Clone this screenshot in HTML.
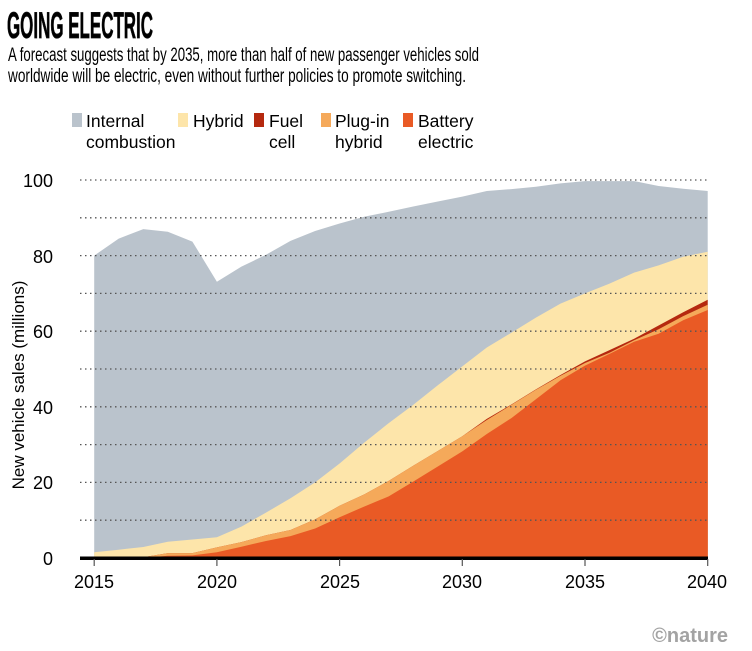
<!DOCTYPE html>
<html><head><meta charset="utf-8"><style>
body{margin:0;width:752px;height:651px;background:#fff;overflow:hidden;font-family:"Liberation Sans",sans-serif;color:#111}
svg{position:absolute;left:0;top:0}
</style></head><body>
<svg width="752" height="651" viewBox="0 0 752 651" xmlns="http://www.w3.org/2000/svg">
<text x="7" y="38" font-family="Liberation Sans Narrow, Liberation Sans, sans-serif" font-weight="bold" font-size="37" textLength="146" lengthAdjust="spacingAndGlyphs" stroke="#111" stroke-width="0.8">GOING ELECTRIC</text>
<text x="8" y="61" font-size="19" textLength="471" lengthAdjust="spacingAndGlyphs">A forecast suggests that by 2035, more than half of new passenger vehicles sold</text>
<text x="8" y="82" font-size="19" textLength="458" lengthAdjust="spacingAndGlyphs">worldwide will be electric, even without further policies to promote switching.</text>
<g font-size="17.5">
<rect x="72" y="113" width="10" height="14" fill="#bac3cc"/><text x="86" y="127">Internal</text><text x="86" y="148">combustion</text>
<rect x="178" y="113" width="10" height="14" fill="#fde5aa"/><text x="193" y="127">Hybrid</text>
<rect x="254" y="113" width="10" height="14" fill="#b5290f"/><text x="269" y="127">Fuel</text><text x="269" y="148">cell</text>
<rect x="321" y="113" width="10" height="14" fill="#f5a95a"/><text x="335" y="127">Plug-in</text><text x="335" y="148">hybrid</text>
<rect x="403" y="113" width="10" height="14" fill="#e95a25"/><text x="418" y="127">Battery</text><text x="418" y="148">electric</text>
</g>
<g id="areas"></g>
<g id="grid" stroke="#555" stroke-width="1.3" stroke-dasharray="1.5,3.5"></g>
<rect x="80" y="556.5" width="628" height="3.5" fill="#000"/>
<g stroke="#555" stroke-width="1.2">
<line x1="94.2" y1="559" x2="94.2" y2="566"/><line x1="216.9" y1="559" x2="216.9" y2="566"/><line x1="339.6" y1="559" x2="339.6" y2="566"/><line x1="462.3" y1="559" x2="462.3" y2="566"/><line x1="585" y1="559" x2="585" y2="566"/><line x1="707.7" y1="559" x2="707.7" y2="566"/>
</g>
<g font-size="18" text-anchor="middle">
<text x="94" y="588">2015</text><text x="217" y="588">2020</text><text x="340" y="588">2025</text><text x="462" y="588">2030</text><text x="585" y="588">2035</text><text x="707" y="588">2040</text>
</g>
<g font-size="18" text-anchor="end">
<text x="53" y="187">100</text><text x="53" y="263">80</text><text x="53" y="338">60</text><text x="53" y="414">40</text><text x="53" y="489">20</text><text x="53" y="565">0</text>
</g>
<text transform="translate(24,385) rotate(-90)" font-size="17" text-anchor="middle">New vehicle sales (millions)</text>
<text x="728" y="642" font-size="20" font-weight="bold" fill="#a3a3a3" text-anchor="end" font-family="Liberation Sans Narrow, Liberation Sans, sans-serif">©nature</text>
</svg>
<script>
var X=function(i){return 94.2+i*24.54},Y=function(v){return 558-v*3.78};
var total=[80,84.5,87,86.3,83.7,73.1,77.1,80.2,83.9,86.5,88.5,90.3,91.6,93,94.3,95.6,97.1,97.6,98.2,99.1,99.7,99.7,99.7,98.4,97.7,97.1];
var hyb=[1.5,2.2,2.9,4.3,4.9,5.5,8.3,12,15.8,20,25,30.5,35.7,40.5,45.7,50.7,55.7,59.6,63.6,67.3,70,72.6,75.5,77.4,79.7,81];
var phev=[0,0,0.2,1.3,1.3,2.8,4.2,6,7.4,10.2,13.8,16.8,20.4,24.4,28.3,32.2,36.5,40.5,44.5,48.2,51.6,54.3,57.6,60.5,64,67];
var fuel=[0,0,0.2,1.3,1.3,2.8,4.2,6,7.4,10.2,13.8,16.8,20.4,24.4,28.3,32.2,36.8,40.6,44.6,48.4,52,55,58,61.5,65,68.3];
var bev=[0,0,0,0.6,0.7,1.5,3,4.5,5.8,7.8,10.8,13.6,16.3,20.2,24.2,28.2,32.8,37,42,47,50.9,54,57.2,59.3,62.9,65.6];
function poly(d,c){var p=[];for(var i=0;i<d.length;i++)p.push(X(i).toFixed(1)+','+Y(d[i]).toFixed(1));p.push(X(25)+','+Y(0));p.push(X(0)+','+Y(0));return '<polygon points="'+p.join(' ')+'" fill="'+c+'"/>';}
document.getElementById('areas').innerHTML=poly(total,'#bac3cc')+poly(hyb,'#fde5aa')+poly(fuel,'#b5290f')+poly(phev,'#f5a95a')+poly(bev,'#e95a25');
var g='';for(var v=10;v<=100;v+=10){var y=Y(v);g+='<line x1="80" y1="'+y+'" x2="708" y2="'+y+'"/>';}
document.getElementById('grid').innerHTML=g;
</script>
</body></html>
